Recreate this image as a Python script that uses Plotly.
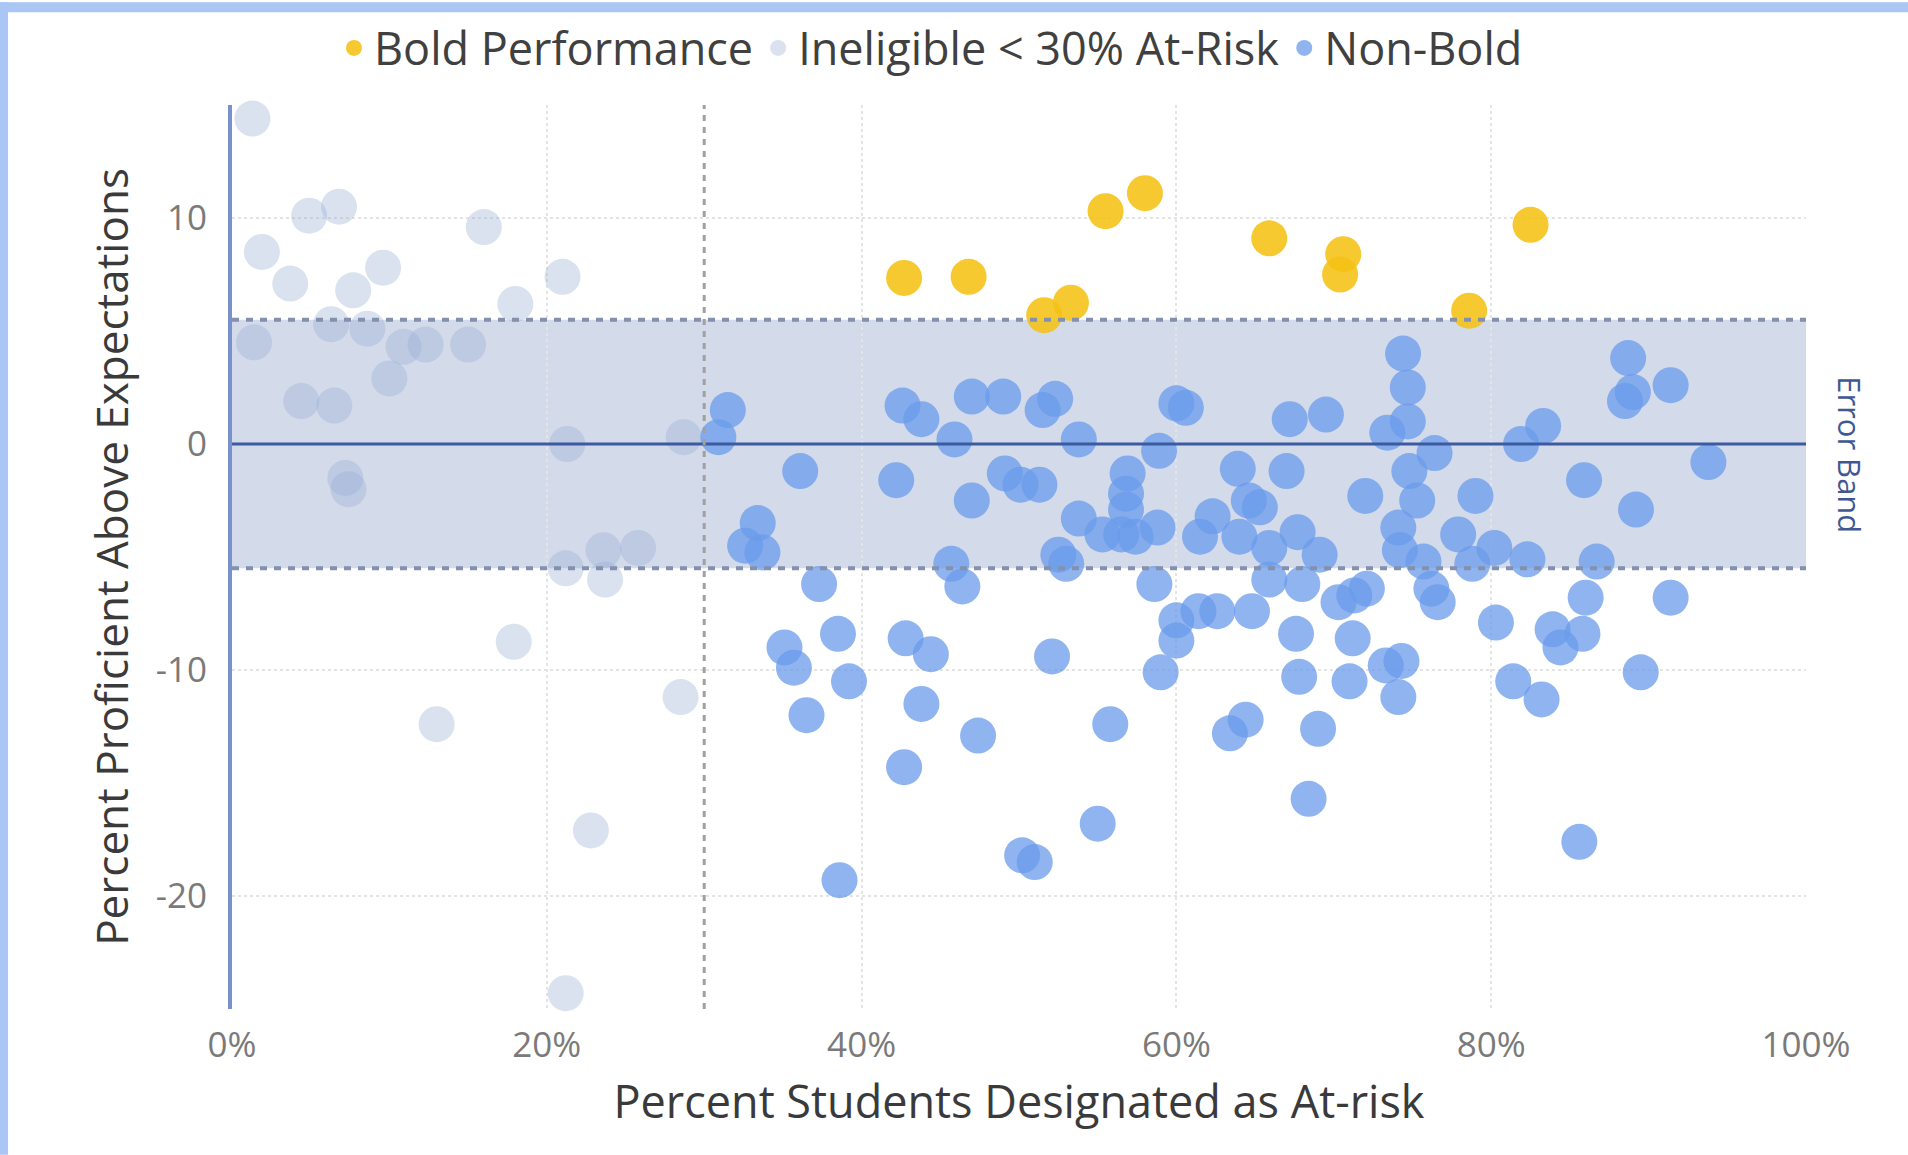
import plotly.graph_objects as go

# ---------------- data ----------------
bold_x = [42.7, 46.8, 51.6, 53.3, 55.5, 58.0, 65.9, 70.6, 70.4, 78.6, 82.5]
bold_y = [7.35, 7.4, 5.7, 6.25, 10.3, 11.1, 9.1, 8.4, 7.5, 5.9, 9.7]

inel_x = [1.3, 4.9, 6.8, 1.9, 3.7, 9.6, 7.7, 16.0, 21.0, 18.0, 6.3, 8.6, 1.4,
          10.9, 12.3, 15.0, 10.0, 4.4, 6.5, 7.2, 7.4, 21.3, 28.7, 23.6, 25.8,
          21.2, 23.7, 17.9, 13.0, 28.5, 22.8, 21.2]
inel_y = [14.4, 10.1, 10.5, 8.5, 7.1, 7.8, 6.8, 9.6, 7.4, 6.2, 5.3, 5.1, 4.5,
          4.3, 4.4, 4.4, 2.9, 1.9, 1.7, -1.5, -2.0, 0.0, 0.3, -4.7, -4.6,
          -5.5, -6.0, -8.75, -12.4, -11.2, -17.1, -24.3]

nonbold_x = [31.5, 30.9, 33.4, 32.6, 33.7, 36.1, 37.3, 35.1, 35.7, 38.5, 39.2,
             36.5, 42.8, 44.4, 43.8, 47.4, 42.7, 38.6, 45.7, 46.4, 52.1, 52.5,
             53.0, 58.6, 55.8, 55.0, 50.2, 51.0, 60.0, 60.0, 59.0, 61.4, 62.6,
             64.8, 65.9, 63.4, 64.4, 67.6, 67.8, 68.4,
             42.6, 43.8, 45.9, 47.0, 49.0, 51.5, 52.3, 53.8, 60.0, 60.6, 58.9,
             67.2, 42.2, 49.1, 50.1, 51.3, 47.0, 56.9, 56.8, 56.8, 63.9, 67.0,
             64.6, 65.3, 53.8, 58.8, 55.3, 56.5, 57.4, 61.5, 62.3, 64.0, 65.9,
             67.7,
             74.4, 74.7, 74.7, 73.4, 69.5, 76.4, 74.8, 72.0, 79.0, 75.3, 81.9,
             83.3, 88.7, 88.5, 89.0, 91.4, 93.8, 85.9, 89.2, 69.1, 74.1, 74.2,
             75.7, 77.9, 80.2, 82.3, 86.7,
             68.0, 69.0, 70.3, 71.3, 72.1, 71.2, 71.0, 73.3, 74.3, 74.1, 76.6,
             76.2, 78.8, 80.3, 81.4, 83.2, 83.9, 84.4, 85.8, 86.0, 91.4, 89.5,
             85.6]
nonbold_y = [1.5, 0.3, -3.5, -4.5, -4.8, -1.2, -6.2, -9.0, -9.9, -8.4, -10.5,
             -12.0, -8.6, -9.3, -11.5, -12.9, -14.3, -19.3, -5.3, -6.3, -9.4, -4.9,
             -5.3, -6.2, -12.4, -16.8, -18.2, -18.5, -7.8, -8.7, -10.1, -7.4, -7.4,
             -7.4, -6.0, -12.8, -12.2, -8.4, -10.3, -15.7,
             1.7, 1.1, 0.2, 2.1, 2.1, 1.5, 2.0, 0.2, 1.8, 1.6, -0.3,
             1.1, -1.6, -1.3, -1.8, -1.8, -2.5, -1.3, -2.2, -2.9, -1.1, -1.2,
             -2.5, -2.8, -3.3, -3.7, -4.0, -4.0, -4.1, -4.1, -3.2, -4.1, -4.6,
             -3.9,
             4.0, 2.5, 1.0, 0.5, 1.3, -0.4, -1.2, -2.3, -2.3, -2.5, 0.0,
             0.8, 3.8, 1.9, 2.3, 2.6, -0.8, -1.6, -2.9, -4.9, -3.7, -4.7,
             -5.2, -4.0, -4.6, -5.1, -5.2,
             -6.2, -12.6, -7.0, -6.7, -6.4, -8.6, -10.5, -9.8, -9.6, -11.2, -7.0,
             -6.4, -5.3, -7.9, -10.5, -11.3, -8.2, -9.0, -8.4, -6.8, -6.8, -10.1,
             -17.6]

x_tick_vals = [0, 20, 40, 60, 80, 100]
x_tick_text = ["0%", "20%", "40%", "60%", "80%", "100%"]
y_tick_vals = [-20, -10, 0, 10]
y_tick_text = ["-20", "-10", "0", "10"]

band_half = 5.5
threshold = 30
x_range = [0, 100]
y_range = [-25, 15]

# ---------------- figure ----------------
W, H = 1908, 1155
ML, MR, MT, MB = 232, 102, 103, 146
pw, ph = W - ML - MR, H - MT - MB

fig = go.Figure()

msize = 36
fig.add_trace(go.Scatter(
    x=inel_x, y=inel_y, mode="markers", name="Ineligible < 30% At-Risk",
    marker=dict(size=msize, color="rgba(150,172,212,0.35)", line=dict(width=0)),
    cliponaxis=False, legendrank=2))
fig.add_trace(go.Scatter(
    x=nonbold_x, y=nonbold_y, mode="markers", name="Non-Bold",
    marker=dict(size=msize, color="rgba(105,155,235,0.75)", line=dict(width=0)),
    cliponaxis=False, legendrank=3))
fig.add_trace(go.Scatter(
    x=bold_x, y=bold_y, mode="markers", name="Bold Performance",
    marker=dict(size=msize, color="rgba(245,193,20,0.88)", line=dict(width=0)),
    cliponaxis=False, legendrank=1))

shapes = []
# error band fill
shapes.append(dict(type="rect", xref="x", yref="y", x0=x_range[0], x1=x_range[1],
                   y0=-band_half, y1=band_half, fillcolor="#D3DAEA",
                   line=dict(width=0), layer="below"))
# band edges (dashed)
for yy in (band_half, -band_half):
    shapes.append(dict(type="line", xref="x", yref="y", x0=x_range[0], x1=x_range[1],
                       y0=yy, y1=yy, line=dict(color="#8390AE", width=4, dash="7px,7px"),
                       layer="above"))
# zero line
shapes.append(dict(type="line", xref="x", yref="y", x0=x_range[0], x1=x_range[1],
                   y0=0, y1=0, line=dict(color="#3B5AA0", width=3), layer="above"))
# threshold line
shapes.append(dict(type="line", xref="x", yref="y", x0=threshold, x1=threshold,
                   y0=y_range[0], y1=y_range[1],
                   line=dict(color="#A0A0A0", width=3, dash="6px,6px"), layer="above"))
# frame strips (screenshot border)
shapes.append(dict(type="rect", xref="paper", yref="paper",
                   x0=-ML / pw, x1=(8 - ML) / pw, y0=-MB / ph, y1=(ph + MT) / ph,
                   fillcolor="#A9C6F4", line=dict(width=0)))
shapes.append(dict(type="rect", xref="paper", yref="paper",
                   x0=-ML / pw, x1=(W - ML) / pw, y0=(ph + MT - 10) / ph, y1=(ph + MT) / ph,
                   fillcolor="#A9C6F4", line=dict(width=0)))

annotations = [dict(text="Error Band", xref="paper", yref="y",
                    x=(1850 - ML) / pw, y=-0.45, textangle=90, showarrow=False,
                    xanchor="center", yanchor="middle",
                    font=dict(family="Open Sans", size=31, color="#3F5894"))]

fig.update_layout(
    width=W, height=H,
    margin=dict(l=ML, r=MR, t=MT, b=MB, pad=0),
    paper_bgcolor="white", plot_bgcolor="white",
    shapes=shapes, annotations=annotations,
    showlegend=True,
    legend=dict(orientation="h", x=(931 - ML) / pw, xanchor="center",
                y=(ph + MT - 46) / ph, yanchor="middle",
                font=dict(family="Open Sans", size=45, color="#404040"),
                itemsizing="trace", traceorder="normal", bgcolor="rgba(0,0,0,0)"),
    xaxis=dict(range=x_range, tickvals=x_tick_vals, ticktext=x_tick_text,
               showgrid=True, gridcolor="#E4E4E4", gridwidth=2, griddash="dot",
               zeroline=False, showline=False, ticks="", ticklabelstandoff=12,
               tickfont=dict(family="Open Sans", size=35, color="#7A7A7A"),
               title=dict(text="Percent Students Designated as At-risk", standoff=20,
                          font=dict(family="Open Sans", size=45, color="#3A3A3A"))),
    yaxis=dict(range=y_range, tickvals=y_tick_vals, ticktext=y_tick_text,
               showgrid=True, gridcolor="#E4E4E4", gridwidth=2, griddash="dot",
               zeroline=False, showline=True, linecolor="#7A92CC", linewidth=4,
               ticks="", ticklabelstandoff=14,
               tickfont=dict(family="Open Sans", size=35, color="#7A7A7A"),
               title=dict(text="Percent Proficient Above Expectations", standoff=14,
                          font=dict(family="Open Sans", size=44, color="#3A3A3A"))),
)

fig.write_html("out.html", config={"displayModeBar": False},
               post_script="document.body.style.margin='0px';")
